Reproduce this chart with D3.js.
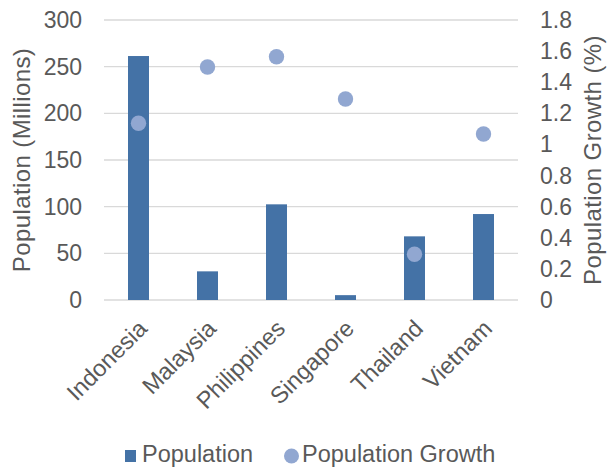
<!DOCTYPE html>
<html><head><meta charset="utf-8">
<script src="https://cdn.jsdelivr.net/npm/d3@7"></script>
<style>body{margin:0;background:#fff}svg{display:block}text{font-family:"Liberation Sans",Arial,sans-serif;fill:#595959}</style>
</head><body><svg id="c" width="607" height="471"></svg>
<script>
const categories = ["Indonesia","Malaysia","Philippines","Singapore","Thailand","Vietnam"];
const population = [261.4, 30.7, 102.5, 5.2, 68.2, 92.1];
const growth = [1.136, 1.498, 1.564, 1.292, 0.294, 1.067];
const leftTicks = [0,50,100,150,200,250,300];
const rightTicks = [0,0.2,0.4,0.6,0.8,1,1.2,1.4,1.6,1.8];

const svg = d3.select("#c");
const L=104, R=518, T=20, B=300, FS=23;
const x = d3.scaleBand().domain(categories).range([L,R]);
const yL = d3.scaleLinear().domain([0,300]).range([B,T]);
const yR = d3.scaleLinear().domain([0,1.8]).range([B,T]);

// gridlines
svg.append("g").selectAll("line").data(leftTicks).join("line")
  .attr("x1",L).attr("x2",R).attr("y1",d=>yL(d)).attr("y2",d=>yL(d))
  .attr("stroke","#d9d9d9").attr("stroke-width",1.3);

// left ticks
svg.append("g").selectAll("text").data(leftTicks).join("text")
  .attr("x",82).attr("y",d=>yL(d)).attr("dy","0.35em").attr("text-anchor","end")
  .attr("font-size",FS).text(d=>d);
// right ticks
svg.append("g").selectAll("text").data(rightTicks).join("text")
  .attr("x",540).attr("y",d=>yR(d)).attr("dy","0.35em").attr("text-anchor","start")
  .attr("font-size",FS).text(d=>d3.format("~g")(d));

// bars
const bw = 21;
svg.append("g").selectAll("rect").data(categories).join("rect")
  .attr("x",(d)=>x(d)+x.bandwidth()/2-bw/2).attr("width",bw)
  .attr("y",(d,i)=>yL(population[i])).attr("height",(d,i)=>yL(0)-yL(population[i]))
  .attr("fill","#4472a6");

// dots
svg.append("g").selectAll("circle").data(categories).join("circle")
  .attr("cx",d=>x(d)+x.bandwidth()/2).attr("cy",(d,i)=>yR(growth[i])).attr("r",7.7)
  .attr("fill","#91a7d1");

// category labels
svg.append("g").selectAll("text").data(categories).join("text")
  .attr("text-anchor","end").attr("font-size",23.5)
  .attr("transform",d=>`translate(${x(d)+x.bandwidth()/2+10},330) rotate(-45)`)
  .text(d=>d);

// axis titles
svg.append("text").attr("text-anchor","middle").attr("font-size",24).attr("letter-spacing","0.4px")
  .attr("transform","translate(30,160) rotate(-90)").text("Population (Millions)");
svg.append("text").attr("text-anchor","middle").attr("font-size",24).attr("letter-spacing","0.4px")
  .attr("transform","translate(601,160) rotate(-90)").text("Population Growth (%)");

// legend
const lg = svg.append("g");
lg.append("rect").attr("x",125).attr("y",450).attr("width",11).attr("height",12).attr("fill","#4472a6");
lg.append("text").attr("x",142).attr("y",462).attr("font-size",23.5).text("Population");
lg.append("circle").attr("cx",291.5).attr("cy",456).attr("r",7.5).attr("fill","#91a7d1");
lg.append("text").attr("x",302).attr("y",462).attr("font-size",23.5).text("Population Growth");
</script></body></html>
